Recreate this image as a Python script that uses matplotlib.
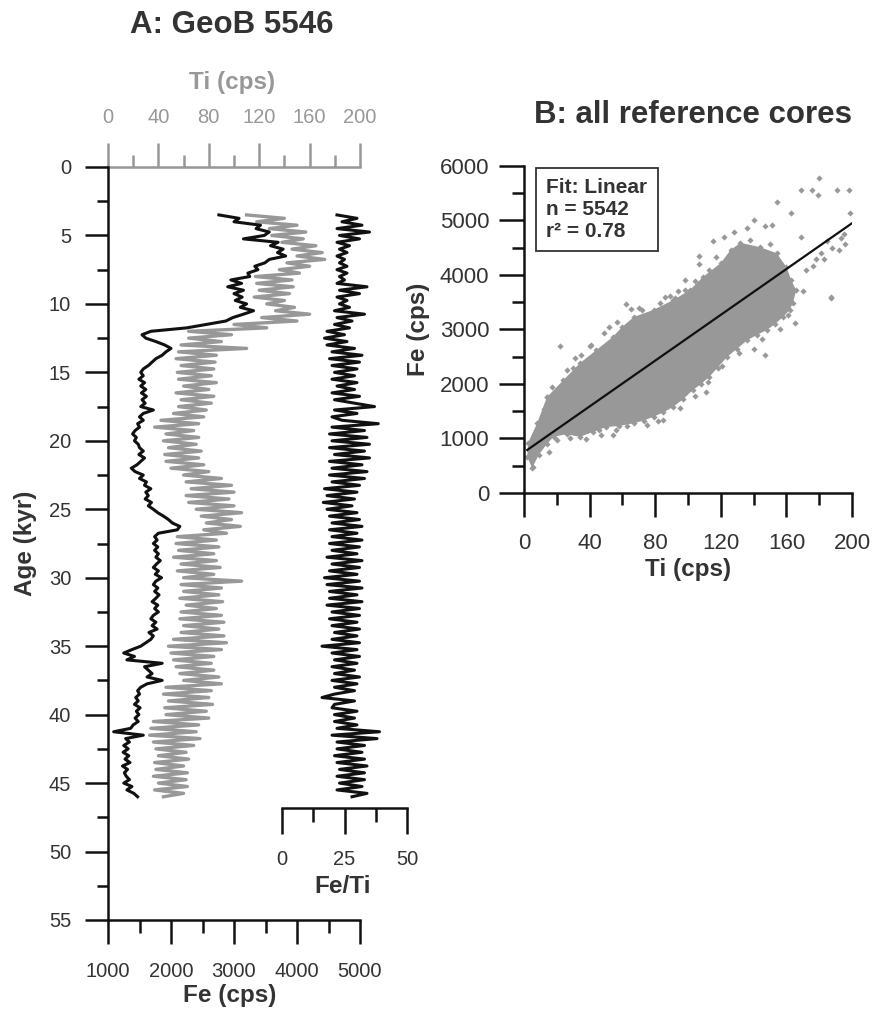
import numpy as np
import matplotlib
matplotlib.use("Agg")
import matplotlib.pyplot as plt
from matplotlib.ticker import MultipleLocator, FixedLocator

plt.rcParams['font.family'] = ['Liberation Sans', 'DejaVu Sans']

# ---------------- Panel A data (GeoB 5546), sampled every 0.25 kyr from 3.5 kyr ----------------
age_start = 3.5
age_step = 0.25

fe_cps = [
    2760, 3080, 3000, 3420,
    3350, 3560, 3480, 3150,
    3700, 3580, 3780, 3690,
    3820, 3560, 3490, 3330,
    3380, 3220, 3250, 2950,
    3120, 2900, 3150, 3000,
    3130, 3020, 3200, 3100,
    3310, 3150, 2980, 2870,
    2560, 2250, 1680, 1540,
    1600, 1760, 1900, 2000,
    1920, 1860, 1760, 1700,
    1640, 1560, 1520, 1560,
    1490, 1580, 1520, 1600,
    1530, 1610, 1540, 1590,
    1520, 1720, 1560, 1500,
    1560, 1470, 1500, 1430,
    1390, 1450, 1420, 1480,
    1500, 1560, 1490, 1580,
    1520, 1460, 1370, 1430,
    1560, 1500, 1610, 1580,
    1680, 1600, 1640, 1590,
    1690, 1640, 1720, 1790,
    1880, 1960, 2020, 2140,
    2100, 1800, 1740, 1780,
    1720, 1790, 1740, 1800,
    1760, 1830, 1770, 1720,
    1800, 1750, 1850, 1760,
    1720, 1790, 1740, 1810,
    1760, 1700, 1790, 1740,
    1800, 1720, 1680, 1760,
    1700, 1780, 1650, 1720,
    1680, 1600, 1520, 1380,
    1250, 1420, 1300, 1860,
    1580, 1640, 1700, 1620,
    1860, 1620, 1520, 1470,
    1500, 1440, 1480, 1420,
    1510, 1450, 1490, 1430,
    1480, 1400, 1360, 1090,
    1560, 1280, 1340, 1250,
    1320, 1240, 1330, 1270,
    1350, 1230, 1310, 1260,
    1290, 1340, 1250, 1380,
    1300, 1410, 1470,
]

ti_cps = [
    110, 140, 118, 150,
    128, 157, 130, 155,
    138, 165, 146, 170,
    150, 172, 142, 160,
    136, 152, 117, 146,
    118, 147, 120, 144,
    116, 140, 126, 148,
    133, 160, 122, 150,
    100, 126, 64, 98,
    64, 90, 58, 110,
    56, 86, 54, 85,
    58, 84, 55, 82,
    56, 86, 60, 80,
    54, 84, 58, 82,
    56, 78, 52, 76,
    42, 72, 37, 68,
    46, 72, 44, 70,
    48, 74, 45, 72,
    46, 76, 50, 80,
    60, 90, 62, 98,
    66, 100, 62, 96,
    64, 100, 70, 106,
    74, 98, 78, 105,
    76, 94, 55, 86,
    54, 88, 56, 84,
    52, 86, 58, 89,
    55, 84, 60, 106,
    58, 90, 60, 88,
    57, 91, 62, 86,
    58, 90, 57, 92,
    60, 88, 58, 92,
    52, 94, 48, 90,
    50, 84, 52, 82,
    54, 84, 57, 88,
    60, 90, 46, 82,
    44, 80, 48, 83,
    45, 78, 46, 80,
    36, 72, 34, 70,
    33, 73, 36, 68,
    38, 62, 40, 64,
    37, 60, 38, 63,
    36, 62, 40, 63,
    37, 60, 44,
]

fe_ti = [
    22, 30, 24, 32,
    22, 35, 23, 31,
    22, 27, 23, 26,
    22, 25, 23, 26,
    22, 26, 23, 25,
    22, 34, 23, 31,
    22, 26, 23, 27,
    21, 33, 22, 28,
    21, 27, 18, 25,
    17, 26, 18, 29,
    20, 32, 19, 31,
    20, 30, 21, 29,
    20, 30, 22, 29,
    20, 31, 21, 29,
    37, 21, 30, 20,
    24, 38.5, 20, 33,
    19, 34, 20, 35,
    19, 33, 21, 35,
    19, 32, 20, 34,
    19, 33, 20, 31,
    17, 30, 18, 29,
    16.5, 28, 18, 30,
    19, 31, 20, 32,
    19, 30, 20, 32,
    19, 31, 20, 30,
    18, 32, 20, 31,
    19, 30, 17, 31,
    18, 32, 19, 30,
    19, 32, 18, 31,
    20, 31, 19, 30,
    20, 31, 21, 30,
    20, 31, 16, 30,
    20, 31, 21, 30,
    20, 29, 21, 31,
    20, 30, 21, 29,
    21, 16, 29, 21,
    20, 30, 21, 29,
    21, 30, 22, 39,
    20, 38, 22, 33,
    22, 32, 21, 33,
    22, 34, 23, 33,
    22, 33, 23, 32,
    22, 34, 28,
]

age_ticks_major = [0, 5, 10, 15, 20, 25, 30, 35, 40, 45, 50, 55]
fe_ticks_major = [1000, 2000, 3000, 4000, 5000]
ti_ticks_major = [0, 40, 80, 120, 160, 200]
feti_ticks_major = [0, 25, 50]

# ---------------- Panel B data (all reference cores) ----------------
# outline of the dense point cloud (Ti, Fe)
cloud_ti = [2, 5, 9, 14, 18, 26, 34, 42, 50, 58, 67, 73, 79, 85, 91, 97, 103, 108,
            113, 118, 124, 130, 136, 142, 148, 153, 158, 162, 164, 166, 163, 160,
            154, 144, 132, 126, 120, 109, 101, 91, 79, 67, 60, 54, 44, 34, 24, 14, 8, 2.5]
cloud_fe = [660, 460, 700, 900, 1030, 1080, 1030, 1120, 1210, 1230, 1280, 1330, 1400,
            1480, 1580, 1720, 1890, 2000, 2130, 2300, 2500, 2650, 2800, 2900, 2990,
            3100, 3230, 3360, 3490, 3720, 3900, 4150, 4400, 4510, 4590, 4460, 4220,
            3960, 3720, 3540, 3360, 3230, 3050, 2860, 2620, 2380, 2070, 1760, 1280, 920]
# scattered points outside / along the edge of the dense cloud
out_ti = [180, 169, 175.6, 179, 191, 198, 154, 163, 199, 140, 147, 151, 128, 169, 193,
          196, 188, 192, 181, 183, 176, 172, 187, 165, 107, 107, 98, 98, 86, 89, 92,
          65, 70, 52, 22, 35, 147, 140, 47, 54, 15, 5.5, 11, 14, 111, 85, 170, 187,
          185, 195, 178, 160, 158, 115, 122, 136, 62, 30, 40,
          20, 28, 38, 46, 56, 63, 75, 82, 95, 104, 112, 121, 131, 145, 156, 161,
          150, 138, 117, 113, 104, 94, 83, 72, 57, 49, 41, 31, 26, 17, 12, 7, 3]
out_fe = [5780, 5560, 5560, 5470, 5560, 5560, 5340, 5140, 5140, 5010, 4900, 4920, 4790,
          4700, 4680, 4560, 4500, 4450, 4400, 4290, 4170, 4100, 3600, 3120, 4210, 4340,
          3720, 3900, 3600, 3610, 3580, 3380, 3390, 3050, 2690, 2530, 2530, 2650, 1060,
          1060, 750, 480, 1280, 1760, 1860, 1340, 3700, 3580, 4620, 4750, 4300, 3800,
          4050, 4620, 4700, 4860, 3460, 2300, 2700,
          980, 1010, 990, 1150, 1160, 1230, 1250, 1330, 1560, 1780, 2030, 2330, 2560,
          2820, 3010, 3260, 4560, 4650, 4330, 4100, 3890, 3700, 3490, 3350, 3140,
          2940, 2720, 2480, 2250, 1950, 1550, 1050, 780]
fit_ti = [2, 200]
fit_fe = [790, 4950]

legend_lines = ["Fit: Linear", "n = 5542", "r\u00b2 = 0.78"]

# ---------------- styling ----------------
W, H = 872, 1009
GRAY = '#989898'
TXT = '#333333'
BLK = '#111111'

fig = plt.figure(figsize=(W / 100, H / 100), dpi=100)

def fx(px):
    return px / W

def fy(py):
    return 1 - py / H

# Panel A main axes (Fe on bottom, age on left)
axA_l, axA_r, axA_t, axA_b = 108, 360, 167, 920
AW, AH = axA_r - axA_l, axA_b - axA_t
ax = fig.add_axes([fx(axA_l), fy(axA_b), fx(AW), AH / H])
axT = ax.twiny()
ax.set_zorder(3)
ax.patch.set_visible(False)
axT.set_zorder(2)

ages_fe = age_start + age_step * np.arange(len(fe_cps))
ages_ti = age_start + age_step * np.arange(len(ti_cps))
ages_ft = age_start + age_step * np.arange(len(fe_ti))

ax.plot(fe_cps, ages_fe, color=BLK, lw=2.2, clip_on=False)
axT.plot(ti_cps, ages_ti, color=GRAY, lw=2.4, clip_on=False)

ax.set_xlim(1000, 5000)
ax.set_ylim(55, 0)
axT.set_xlim(0, 200)

for s in ['top', 'right']:
    ax.spines[s].set_visible(False)
for s in ['left', 'bottom']:
    ax.spines[s].set_linewidth(1.8)
    ax.spines[s].set_color(BLK)
for s in ['left', 'right', 'bottom']:
    axT.spines[s].set_visible(False)
axT.spines['top'].set_color(GRAY)
axT.spines['top'].set_linewidth(1.8)

ax.yaxis.set_major_locator(FixedLocator(age_ticks_major))
ax.yaxis.set_minor_locator(MultipleLocator(2.5))
ax.xaxis.set_major_locator(FixedLocator(fe_ticks_major))
ax.xaxis.set_minor_locator(MultipleLocator(500))
axT.xaxis.set_major_locator(FixedLocator(ti_ticks_major))
axT.xaxis.set_minor_locator(MultipleLocator(20))

ax.tick_params(axis='y', which='major', direction='out', length=16.5, width=1.8,
               color=BLK, labelsize=14.5, labelcolor=TXT, pad=10)
ax.tick_params(axis='y', which='minor', direction='out', length=8, width=1.8, color=BLK)
ax.tick_params(axis='x', which='major', direction='out', length=17.5, width=1.8,
               color=BLK, labelsize=14.5, labelcolor=TXT, pad=13)
ax.tick_params(axis='x', which='minor', direction='out', length=9, width=1.8, color=BLK)
axT.tick_params(axis='x', which='major', direction='out', length=17, width=1.8,
                color=GRAY, labelsize=14.5, labelcolor=GRAY, pad=12)
axT.tick_params(axis='x', which='minor', direction='out', length=8.5, width=1.8, color=GRAY)

ax.set_ylabel('Age (kyr)', fontsize=17.5, fontweight='bold', color=TXT)
ax.yaxis.set_label_coords((37 - axA_l) / AW, 0.5)
ax.set_xlabel('Fe (cps)', fontsize=17.5, fontweight='bold', color=TXT)
ax.xaxis.set_label_coords((230 - axA_l) / AW, (axA_b - 984) / AH)
axT.set_xlabel('Ti (cps)', fontsize=17.5, fontweight='bold', color=GRAY)
axT.xaxis.set_label_coords((232 - axA_l) / AW, (axA_b - 89) / AH)

# Fe/Ti axes
ft_l, ft_r, ft_y = 282, 407, 808
axF = fig.add_axes([fx(ft_l), fy(axA_b), fx(ft_r - ft_l), AH / H])
axF.set_zorder(4)
axF.patch.set_visible(False)
axF.plot(fe_ti, ages_ft, color=BLK, lw=2.2, clip_on=False)
axF.set_xlim(0, 50)
axF.set_ylim(55, 0)
for s in ['top', 'right', 'left']:
    axF.spines[s].set_visible(False)
axF.spines['bottom'].set_position(('data', (ft_y - axA_t) / AH * 55))
axF.spines['bottom'].set_linewidth(1.8)
axF.spines['bottom'].set_color(BLK)
axF.set_yticks([])
axF.xaxis.set_major_locator(FixedLocator(feti_ticks_major))
axF.xaxis.set_minor_locator(MultipleLocator(12.5))
axF.tick_params(axis='x', which='major', direction='out', length=18.5, width=1.8,
                color=BLK, labelsize=14.5, labelcolor=TXT, pad=12)
axF.tick_params(axis='x', which='minor', direction='out', length=10, width=1.8, color=BLK)
axF.set_xlabel('Fe/Ti', fontsize=17.5, fontweight='bold', color=TXT)
axF.xaxis.set_label_coords((343 - ft_l) / (ft_r - ft_l), (axA_b - 875) / AH)

fig.text(fx(232), fy(25), 'A: GeoB 5546', ha='center', va='center',
         fontsize=22.5, fontweight='bold', color=TXT)

# ---------------- Panel B ----------------
bl, br, bt, bb = 524, 852, 166, 493
BW, BH = br - bl, bb - bt
axB = fig.add_axes([fx(bl), fy(bb), fx(BW), BH / H])
axB.fill(cloud_ti, cloud_fe, color=GRAY, lw=0, zorder=2)
axB.scatter(cloud_ti, cloud_fe, marker='D', s=10, color=GRAY, lw=0, zorder=2, clip_on=False)
axB.scatter(out_ti, out_fe, marker='D', s=10, color=GRAY, lw=0, zorder=2, clip_on=False)
axB.plot(fit_ti, fit_fe, color=BLK, lw=1.6, zorder=3)
axB.set_xlim(0, 200)
axB.set_ylim(0, 6000)
for s in ['top', 'right']:
    axB.spines[s].set_visible(False)
for s in ['left', 'bottom']:
    axB.spines[s].set_linewidth(1.8)
    axB.spines[s].set_color(BLK)
axB.xaxis.set_major_locator(FixedLocator(ti_ticks_major))
axB.xaxis.set_minor_locator(MultipleLocator(20))
axB.yaxis.set_major_locator(MultipleLocator(1000))
axB.yaxis.set_minor_locator(MultipleLocator(500))
axB.tick_params(axis='x', which='major', direction='out', length=17, width=1.8,
                color=BLK, labelsize=16, labelcolor=TXT, pad=12)
axB.tick_params(axis='x', which='minor', direction='out', length=8.5, width=1.8, color=BLK)
axB.tick_params(axis='y', which='major', direction='out', length=18, width=1.8,
                color=BLK, labelsize=16, labelcolor=TXT, pad=7)
axB.tick_params(axis='y', which='minor', direction='out', length=9, width=1.8, color=BLK)
axB.set_xlabel('Ti (cps)', fontsize=17.5, fontweight='bold', color=TXT)
axB.xaxis.set_label_coords(0.5, (bb - 558) / BH)
axB.set_ylabel('Fe (cps)', fontsize=17.5, fontweight='bold', color=TXT)
axB.yaxis.set_label_coords((430 - bl) / BW, 0.5)

axB.text((546 - bl) / BW, (bb - 178) / BH, "\n".join(legend_lines),
         transform=axB.transAxes, ha='left', va='top', fontsize=15,
         fontweight='bold', color=TXT, linespacing=1.2, zorder=5,
         bbox=dict(boxstyle='square,pad=0.5', fc='white', ec=TXT, lw=1.3))

fig.text(fx(693), fy(115), 'B: all reference cores', ha='center', va='center',
         fontsize=22.5, fontweight='bold', color=TXT)

fig.savefig('out.png', dpi=100)
